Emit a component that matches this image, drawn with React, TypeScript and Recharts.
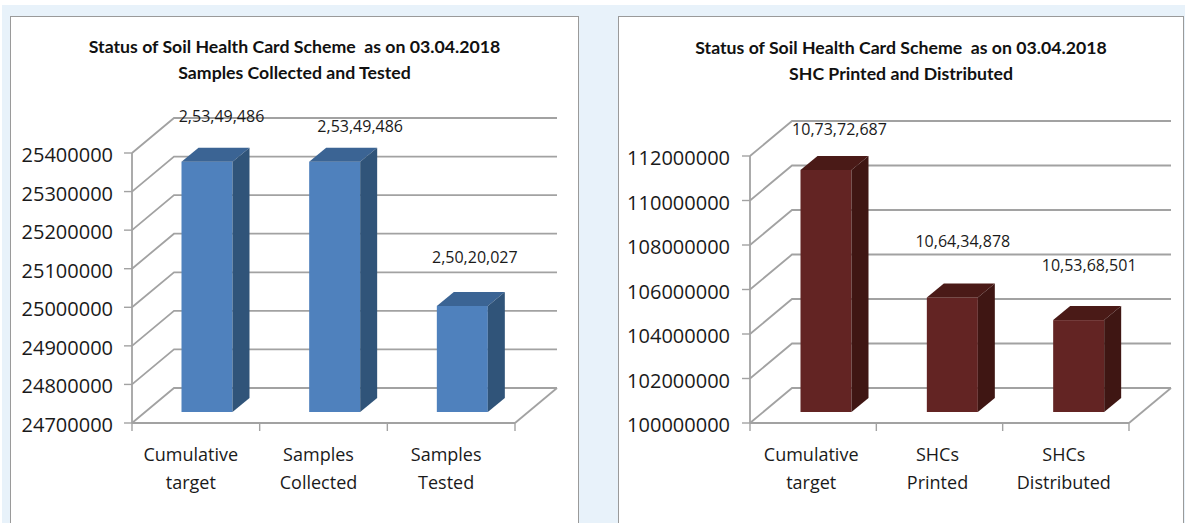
import { Bar, BarChart, CartesianGrid, LabelList, XAxis, YAxis } from "recharts";

const sampleCategories = ["Cumulative target", "Samples Collected", "Samples Tested"];
// bar heights as drawn, the printed labels do not always agree with them
const sampleValues = [25349000, 25349000, 24975000];
const sampleLabels = ["2,53,49,486", "2,53,49,486", "2,50,20,027"];
const sampleTicks = [24700000, 24800000, 24900000, 25000000, 25100000, 25200000, 25300000, 25400000];

const shcCategories = ["Cumulative target", "SHCs Printed", "SHCs Distributed"];
const shcValues = [110880000, 105150000, 104130000];
const shcLabels = ["10,73,72,687", "10,64,34,878", "10,53,68,501"];
const shcTicks = [100000000, 102000000, 104000000, 106000000, 108000000, 110000000, 112000000];

const FONT = "'Open Sans', sans-serif";
const GRID = "#a2a2a2";
const DEPTH_X = 17;
const DEPTH_Y = 14;
const LIFT = 11;

type Colors = { front: string; top: string; side: string };

type PanelProps = {
  left: number;
  width: number;
  titleTop: number;
  subtitle: string;
  categories: string[];
  values: number[];
  labels: string[];
  ticks: number[];
  colors: Colors;
  axisWidth: number;
  margin: { top: number; right: number; left: number; bottom: number };
  shift: number;
  tickShift: number;
  valueTickMargin: number;
  labelShift: [number, number][];
};

function box3d(props: any, colors: Colors, shift: number) {
  const { x, y, width, height } = props;
  const fx = x + shift;
  const fy = y - LIFT;
  const fr = fx + width;
  const fb = fy + height;
  return (
    <g>
      <rect x={fx} y={fy} width={width} height={height} fill={colors.front} />
      <polygon
        points={`${fx},${fy} ${fx + DEPTH_X},${fy - DEPTH_Y} ${fr + DEPTH_X},${fy - DEPTH_Y} ${fr},${fy}`}
        fill={colors.top}
      />
      <polygon
        points={`${fr},${fy} ${fr + DEPTH_X},${fy - DEPTH_Y} ${fr + DEPTH_X},${fb - DEPTH_Y} ${fr},${fb}`}
        fill={colors.side}
      />
    </g>
  );
}

function Panel(p: PanelProps) {
  const height = 507;
  const rows = p.categories.map((name, i) => ({ name, value: p.values[i], label: p.labels[i] }));
  const band = (p.width - p.axisWidth - p.margin.left - p.margin.right) / p.categories.length;
  const wallX = 42;
  const wallY = 35;

  // each horizontal line runs along the side wall first, then across the back wall
  const gridLine = (g: any) => {
    const isFloor = Math.abs(g.y1 - (g.y + g.height)) < 1;
    return (
      <g key={g.key}>
        <path
          d={`M${g.x1},${g.y1} L${g.x1 + wallX},${g.y1 - wallY} L${g.x2 + wallX},${g.y1 - wallY}`}
          fill="none"
          stroke={GRID}
          strokeWidth={1.8}
        />
        {isFloor && (
          <path d={`M${g.x2},${g.y1} L${g.x2 + wallX},${g.y1 - wallY}`} stroke={GRID} strokeWidth={1.8} />
        )}
      </g>
    );
  };

  const categoryTick = (t: any) => {
    const words = String(t.payload.value).split(" ");
    const last = t.index === p.categories.length - 1;
    return (
      <g>
        <line x1={t.x - band / 2} x2={t.x - band / 2} y1={t.y} y2={t.y + 8} stroke={GRID} strokeWidth={1.4} />
        {last && <line x1={t.x + band / 2} x2={t.x + band / 2} y1={t.y} y2={t.y + 8} stroke={GRID} strokeWidth={1.4} />}
        {words.map((w, i) => (
          <text
            key={w}
            x={t.x + p.tickShift}
            y={t.y + 38 + i * 28}
            textAnchor="middle"
            fontSize={18}
            fontFamily={FONT}
            fill="#1a1a1a"
          >
            {w}
          </text>
        ))}
      </g>
    );
  };

  const valueTick = (t: any) => (
    <text x={t.x} y={t.y + 9} textAnchor="end" fontSize={20} fontFamily={FONT} fill="#1a1a1a">
      {t.payload.value}
    </text>
  );

  const valueLabel = (l: any) => {
    const [dx, dy] = p.labelShift[l.index];
    return (
      <text x={l.x + p.shift + dx} y={l.y - LIFT + dy} textAnchor="middle" fontSize={16} fontFamily={FONT} fill="#1a1a1a">
        {l.value}
      </text>
    );
  };

  return (
    <div
      style={{
        position: "absolute",
        left: p.left,
        top: 16,
        width: p.width,
        height: height + 20,
        background: "#fff",
        border: "1px solid #9a9a9a",
        boxSizing: "border-box",
      }}
    >
      <div
        style={{
          position: "absolute",
          left: 0,
          top: p.titleTop,
          width: "100%",
          textAlign: "center",
          fontFamily: "Lato, sans-serif",
          fontWeight: 700,
          fontSize: 17.7,
          lineHeight: "26px",
          color: "#111",
        }}
      >
        <div>Status of Soil Health Card Scheme&nbsp; as on 03.04.2018</div>
        <div>{p.subtitle}</div>
      </div>
      <div style={{ position: "absolute", left: -1, top: -1 }}>
        <BarChart width={p.width} height={height} data={rows} margin={p.margin} barSize={51}>
          <CartesianGrid horizontal={gridLine} vertical={false} />
          <XAxis
            dataKey="name"
            interval={0}
            height={70}
            tickLine={false}
            tickSize={0}
            tickMargin={0}
            axisLine={{ stroke: GRID, strokeWidth: 1.8 }}
            tick={categoryTick}
          />
          <YAxis
            width={p.axisWidth}
            domain={[p.ticks[0], p.ticks[p.ticks.length - 1]]}
            ticks={p.ticks}
            interval={0}
            tickSize={8}
            tickMargin={p.valueTickMargin}
            tickLine={{ stroke: GRID, strokeWidth: 1.4 }}
            axisLine={{ stroke: GRID, strokeWidth: 1.8 }}
            tick={valueTick}
          />
          <Bar dataKey="value" isAnimationActive={false} shape={(s: any) => box3d(s, p.colors, p.shift)}>
            <LabelList dataKey="label" content={valueLabel} />
          </Bar>
        </BarChart>
      </div>
    </div>
  );
}

export default function App() {
  return (
    <div style={{ position: "absolute", left: 0, top: 0, width: 1185, height: 523, background: "#fff", overflow: "hidden" }}>
      <div style={{ position: "absolute", left: 2, top: 5, right: 0, bottom: 0, background: "#e8f2fa" }} />
      <Panel
        left={10}
        width={569}
        titleTop={17}
        subtitle="Samples Collected and Tested"
        categories={sampleCategories}
        values={sampleValues}
        labels={sampleLabels}
        ticks={sampleTicks}
        colors={{ front: "#4f81bd", top: "#3b6494", side: "#305479" }}
        axisWidth={122}
        margin={{ top: 137, right: 64, left: 0, bottom: 30 }}
        shift={11.5}
        tickShift={-5}
        valueTickMargin={11}
        labelShift={[
          [40, -40],
          [51, -30],
          [38, -43],
        ]}
      />
      <Panel
        left={618}
        width={566}
        titleTop={18}
        subtitle="SHC Printed and Distributed"
        categories={shcCategories}
        values={shcValues}
        labels={shcLabels}
        ticks={shcTicks}
        colors={{ front: "#632423", top: "#4a1a17", side: "#3f1613" }}
        axisWidth={132}
        margin={{ top: 140, right: 55, left: 0, bottom: 30 }}
        shift={12.5}
        tickShift={-2}
        valueTickMargin={12}
        labelShift={[
          [39, -35],
          [36, -50],
          [36, -49],
        ]}
      />
    </div>
  );
}
